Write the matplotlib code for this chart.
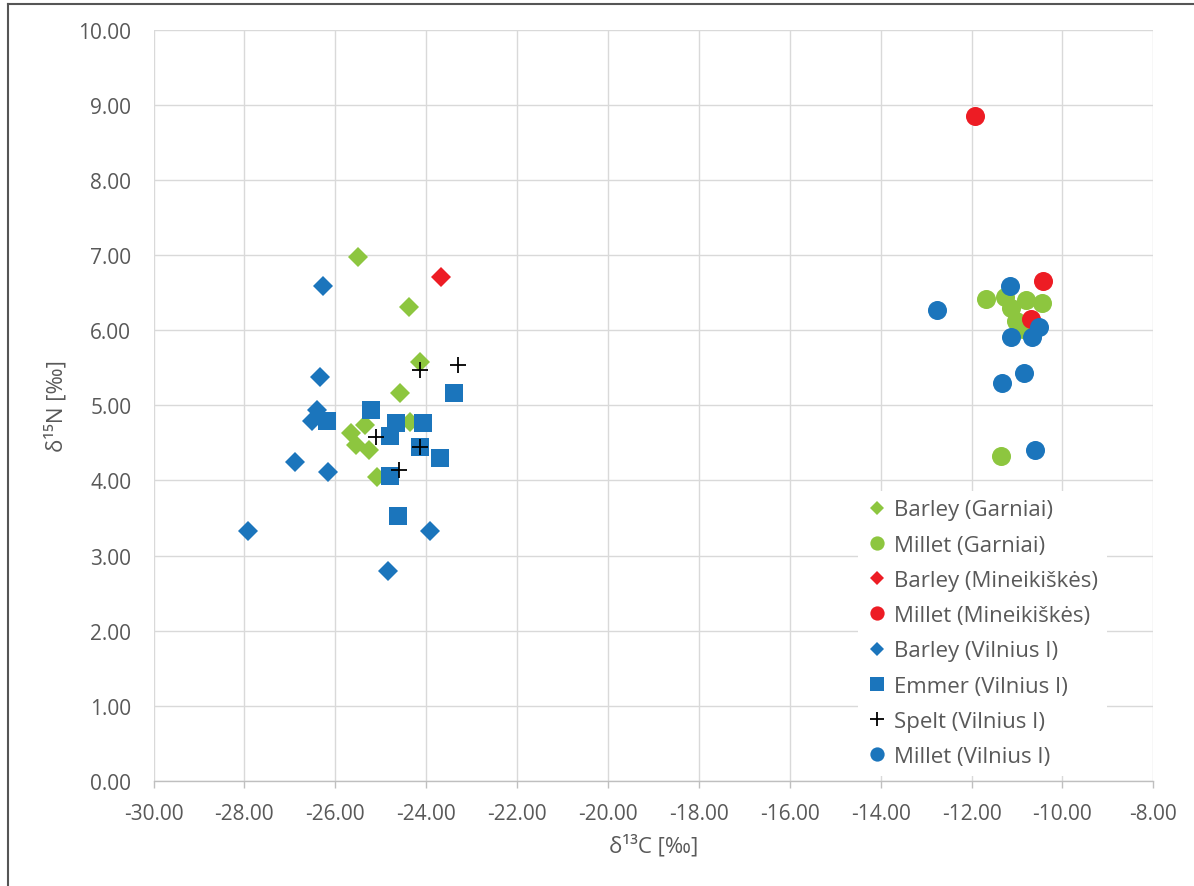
import matplotlib
matplotlib.use("Agg")
import matplotlib.pyplot as plt
from matplotlib.ticker import FormatStrFormatter, MultipleLocator
from matplotlib.lines import Line2D

plt.rcParams['font.family'] = ['Open Sans', 'DejaVu Sans']
plt.rcParams['axes.unicode_minus'] = False

TXT = '#595959'
GREEN = '#8DC63F'
RED = '#ED1C24'
BLUE = '#1B75BC'

# Barley (Garniai)
barley_garniai_x = [-25.51, -24.37, -24.14, -24.58, -25.34, -25.66, -25.55, -25.26, -24.35, -25.09]
barley_garniai_y = [6.97, 6.31, 5.58, 5.16, 4.74, 4.63, 4.47, 4.40, 4.78, 4.04]
# Millet (Garniai)
millet_garniai_x = [-11.69, -11.27, -10.80, -10.46, -11.13, -11.02, -10.87, -11.35]
millet_garniai_y = [6.42, 6.44, 6.40, 6.36, 6.29, 6.12, 6.01, 4.33]
# Barley (Mineikiškės)
barley_mine_x = [-23.67]
barley_mine_y = [6.71]
# Millet (Mineikiškės)
millet_mine_x = [-11.93, -10.43, -10.69]
millet_mine_y = [8.85, 6.66, 6.15]
# Barley (Vilnius I)
barley_vil_x = [-26.27, -26.34, -26.41, -26.52, -26.89, -26.17, -27.93, -23.91, -24.85]
barley_vil_y = [6.59, 5.37, 4.94, 4.79, 4.24, 4.11, 3.33, 3.33, 2.80]
# Emmer (Vilnius I)
emmer_vil_x = [-23.38, -25.21, -26.19, -24.66, -24.06, -24.80, -24.14, -23.69, -24.79, -24.63]
emmer_vil_y = [5.16, 4.94, 4.79, 4.77, 4.76, 4.59, 4.45, 4.30, 4.06, 3.53]
# Spelt (Vilnius I)
spelt_vil_x = [-24.14, -23.31, -25.11, -24.14, -24.60]
spelt_vil_y = [5.47, 5.54, 4.58, 4.45, 4.14]
# Millet (Vilnius I)
millet_vil_x = [-12.77, -11.16, -11.13, -10.68, -10.52, -10.84, -11.32, -10.61]
millet_vil_y = [6.27, 6.59, 5.91, 5.91, 6.04, 5.43, 5.30, 4.40]

series = [
    ("Barley (Garniai)", barley_garniai_x, barley_garniai_y, 'D', GREEN, 9.7),
    ("Millet (Garniai)", millet_garniai_x, millet_garniai_y, 'o', GREEN, 13.7),
    ("Barley (Mineikiškės)", barley_mine_x, barley_mine_y, 'D', RED, 9.7),
    ("Millet (Mineikiškės)", millet_mine_x, millet_mine_y, 'o', RED, 13.7),
    ("Barley (Vilnius I)", barley_vil_x, barley_vil_y, 'D', BLUE, 9.7),
    ("Emmer (Vilnius I)", emmer_vil_x, emmer_vil_y, 's', BLUE, 13.4),
    ("Spelt (Vilnius I)", spelt_vil_x, spelt_vil_y, '+', 'black', 12),
    ("Millet (Vilnius I)", millet_vil_x, millet_vil_y, 'o', BLUE, 13.7),
]

fig = plt.figure(figsize=(11.94, 8.87), dpi=100)
ax = fig.add_axes([153.5/1194, 1-782/887, (1153.3-153.5)/1194, (782-30.5)/887])

handles = []
for name, xs, ys, m, c, ms in series:
    if m == '+':
        ax.plot(xs, ys, linestyle='none', marker=m, color=c, markersize=ms,
                markeredgewidth=1.3, zorder=3)
        h = Line2D([], [], linestyle='none', marker=m, color=c, markersize=ms*0.8,
                   markeredgewidth=1.3)
    else:
        ax.plot(xs, ys, linestyle='none', marker=m, color=c, markersize=ms,
                markeredgewidth=0, zorder=3)
        h = Line2D([], [], linestyle='none', marker=m, color=c, markersize=ms*0.75,
                   markeredgewidth=0)
    handles.append((h, name))

ax.set_xlim(-30, -8)
ax.set_ylim(0, 10)
ax.xaxis.set_major_locator(MultipleLocator(2))
ax.yaxis.set_major_locator(MultipleLocator(1))
ax.xaxis.set_major_formatter(FormatStrFormatter('%.2f'))
ax.yaxis.set_major_formatter(FormatStrFormatter('%.2f'))
ax.grid(True, color='#d9d9d9', linewidth=1.0, zorder=0)
ax.set_axisbelow(True)
for s in ['top', 'right', 'left']:
    ax.spines[s].set_visible(False)
ax.spines['bottom'].set_color('#bfbfbf')
ax.spines['bottom'].set_linewidth(1.0)
ax.tick_params(axis='x', colors='#bfbfbf', length=5, width=1.0, labelcolor=TXT,
               labelsize=15, pad=11)
ax.tick_params(axis='y', length=0, labelcolor=TXT, labelsize=15, pad=16)

ax.set_xlabel('δ¹³C [‰]', color=TXT, fontsize=16, labelpad=7)
ax.set_ylabel('δ¹⁵N [‰]', color=TXT, fontsize=16, labelpad=8)

leg = ax.legend([h for h, _ in handles], [n for _, n in handles],
                loc='lower right', bbox_to_anchor=(0.965, -0.008),
                frameon=True, fancybox=False, facecolor='white', edgecolor='none',
                framealpha=1.0, fontsize=16, labelcolor=TXT,
                handlelength=0.9, handletextpad=0.35, labelspacing=0.64,
                borderpad=0.4)
leg.set_zorder(5)

# outer frame lines (left and top)
fig.add_artist(Line2D([8/1194, 8/1194], [0, 1-5/887], color='#555555', linewidth=1.5,
                      transform=fig.transFigure))
fig.add_artist(Line2D([8/1194, 1], [1-5/887, 1-5/887], color='#555555', linewidth=1.5,
                      transform=fig.transFigure))

fig.savefig('out.png', dpi=100)
